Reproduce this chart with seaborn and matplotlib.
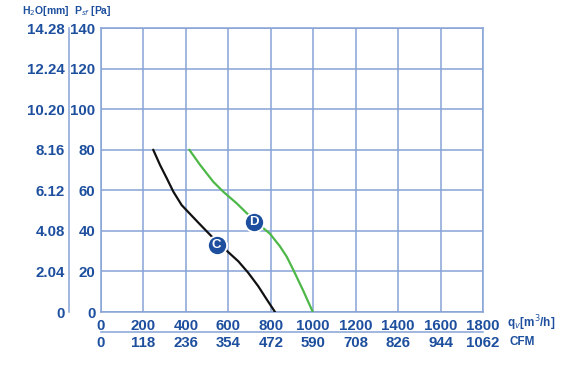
import numpy as np
import pandas as pd
import matplotlib
matplotlib.use("Agg")
import matplotlib.pyplot as plt
import seaborn as sns

# --- data ---
FLOW_C = [246, 278, 310, 341, 380, 419, 459, 521, 545, 584, 647, 694, 741, 781, 820]
PA_C = [80, 72.5, 65.9, 59.3, 52.7, 48.4, 44.0, 37.3, 34.8, 31.0, 25.0, 19.3, 12.7, 6.2, 0]
FLOW_D = [416, 467, 529, 576, 639, 690, 722, 757, 796, 843, 875, 906, 953, 998]
PA_D = [80, 72.5, 64.2, 59.3, 53.6, 48.4, 45.2, 42.0, 38.6, 32.4, 27.3, 20.8, 10.5, 0]
MARK_NAMES = ["C", "D"]
MARK_FLOW = [545, 722]
MARK_PA = [33.0, 44.6]

FLOW_TICKS = [0, 200, 400, 600, 800, 1000, 1200, 1400, 1600, 1800]
CFM_LABELS = ["0", "118", "236", "354", "472", "590", "708", "826", "944", "1062"]
PA_TICKS = [0, 20, 40, 60, 80, 100, 120, 140]
MM_LABELS = ["0", "2.04", "4.08", "6.12", "8.16", "10.20", "12.24", "14.28"]

TXT = "#1d4f9e"
GRID = "#86a3d6"

sns.set_theme(style="white")
plt.rcParams["font.family"] = ["Liberation Sans", "DejaVu Sans"]

df = pd.concat([
    pd.DataFrame({"flow": FLOW_C, "pa": PA_C, "curve": "C"}),
    pd.DataFrame({"flow": FLOW_D, "pa": PA_D, "curve": "D"}),
])

fig = plt.figure(figsize=(5.67, 3.69), dpi=100)
ax = fig.add_axes([101 / 567, 57 / 369, 382 / 567, 284 / 369])

sns.lineplot(data=df, x="flow", y="pa", hue="curve", sort=False,
             palette={"C": "#111111", "D": "#4db848"}, linewidth=1.6,
             legend=False, ax=ax, zorder=3)

ax.set_xlim(0, 1800)
ax.set_ylim(0, 140)
ax.set_xticks(FLOW_TICKS)
ax.set_yticks(PA_TICKS)
ax.set_xticks(np.arange(100, 1800, 200), minor=True)
ax.set_yticks(np.arange(10, 140, 20), minor=True)
ax.grid(True, which="major", color=GRID, linewidth=1.1)
ax.tick_params(axis="both", which="major", length=0, labelsize=10.8,
               labelcolor=TXT)
ax.tick_params(axis="x", which="major", pad=5)
ax.tick_params(axis="y", which="major", pad=4)
ax.tick_params(axis="both", which="minor", direction="in", length=4,
               color=GRID, width=1)
for lbl in ax.get_xticklabels() + ax.get_yticklabels():
    lbl.set_fontweight("bold")
for s in ax.spines.values():
    s.set_color(GRID)
    s.set_linewidth(1.1)
ax.set_xlabel("")
ax.set_ylabel("")

# markers with letters
for name, fx, py in zip(MARK_NAMES, MARK_FLOW, MARK_PA):
    ax.scatter([fx], [py], s=190, color="#1d4f9e", edgecolor="white",
               linewidth=1.3, zorder=5)
    ax.text(fx, py, name, color="white", ha="center", va="center",
            fontsize=9.5, fontweight="bold", zorder=6)

# H2O secondary axis
ax_mm = ax.secondary_yaxis(-32 / 382)
ax_mm.set_yticks(PA_TICKS)
ax_mm.set_yticklabels(MM_LABELS)
ax_mm.tick_params(length=0, labelsize=10.8, labelcolor=TXT, pad=3)
for lbl in ax_mm.get_yticklabels():
    lbl.set_fontweight("bold")
ax_mm.spines["left"].set_color(GRID)
ax_mm.spines["left"].set_linewidth(1.1)

# CFM secondary axis
ax_cfm = ax.secondary_xaxis(-20 / 284)
ax_cfm.set_xticks(FLOW_TICKS)
ax_cfm.set_xticklabels(CFM_LABELS)
ax_cfm.tick_params(length=0, labelsize=10.8, labelcolor=TXT, pad=3)
for lbl in ax_cfm.get_xticklabels():
    lbl.set_fontweight("bold")
ax_cfm.spines["bottom"].set_color(GRID)
ax_cfm.spines["bottom"].set_linewidth(1.1)

# axis titles
fig.text(22 / 567, 1 - 11 / 369, r"H$_2$O[mm]", color=TXT, fontsize=7.5,
         fontweight="bold", va="center", ha="left")
fig.text(74 / 567, 1 - 11 / 369, r"P$_{sf}$ [Pa]", color=TXT, fontsize=7.5,
         fontweight="bold", va="center", ha="left")
fig.text(507 / 567, 1 - 323 / 369, r"q$_v$[m$^3$/h]", color=TXT, fontsize=8.5,
         fontweight="bold", va="center", ha="left")
fig.text(510 / 567, 1 - 342 / 369, "CFM", color=TXT, fontsize=8.5,
         fontweight="bold", va="center", ha="left")

fig.savefig("out.png", dpi=100, facecolor="white")
